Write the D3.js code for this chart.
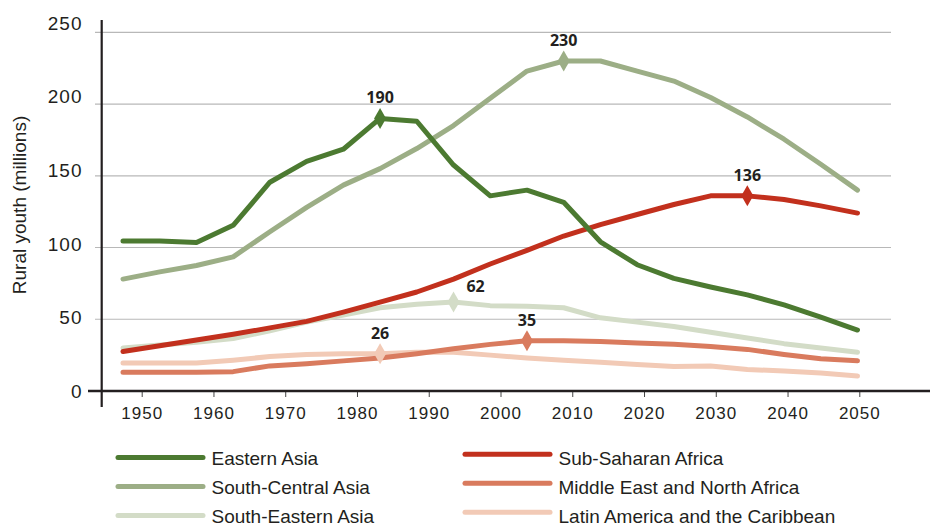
<!DOCTYPE html>
<html>
<head>
<meta charset="utf-8">
<script src="https://cdn.jsdelivr.net/npm/d3@7"></script>
<style>
  html, body { margin: 0; padding: 0; background: #fff; }
  svg { display: block; }
  .tick-label { font-family: "Liberation Sans", Arial, sans-serif; fill: #231f20; }
  .peak-label { font-family: "Open Sans", sans-serif; font-weight: 700; font-size: 16px; fill: #231f20; }
  .legend-text { font-family: "Liberation Sans", Arial, sans-serif; font-size: 19px; fill: #231f20; }
</style>
</head>
<body>
<svg id="chart" width="930" height="525"></svg>
<script>
// Rural youth (millions) by region, 1950-2050

const years = [1950, 1955, 1960, 1965, 1970, 1975, 1980, 1985, 1990, 1995, 2000,
               2005, 2010, 2015, 2020, 2025, 2030, 2035, 2040, 2045, 2050];

const easternAsia      = [104.5, 104.5, 103.5, 115.5, 145.5, 160, 168.5, 190, 188, 157.5, 136,
                          140, 131.5, 104, 88, 78.5, 72.5, 67, 60, 51.5, 42.5];
const southCentralAsia = [78, 83, 87.5, 93.5, 111, 128, 143.5, 155, 169, 185, 204,
                          223, 230, 230, 223, 216, 204.5, 191, 175.5, 158, 140];
const southEasternAsia = [30, 32, 34, 36.5, 42, 48, 53, 58, 60.5, 62, 59.5,
                          59, 58, 51, 48, 45, 41, 37, 33, 30, 27];
const subSaharanAfrica = [27.5, 31.5, 35.5, 39.5, 44, 48.5, 55, 62, 69, 78, 88.5,
                          98, 108, 116, 123, 130, 136, 136, 133.5, 129, 124];
const middleEastNA     = [13, 13, 13, 13.5, 17.5, 19, 21, 23, 26, 29.5, 32.5,
                          35, 35, 34.5, 33.5, 32.5, 31, 29, 25.5, 22.5, 21];
const latinAmerica     = [19.5, 19.5, 19.5, 21.5, 24, 25.5, 26, 26, 27, 27, 25,
                          23, 21.5, 20, 18.5, 17, 17.5, 15, 14, 12.5, 10.5];

const seriesNames = ['Eastern Asia', 'South-Central Asia', 'South-Eastern Asia',
                     'Sub-Saharan Africa', 'Middle East and North Africa', 'Latin America and the Caribbean'];
const seriesValues = [easternAsia, southCentralAsia, southEasternAsia, subSaharanAfrica, middleEastNA, latinAmerica];
// year of the marked peak for each series
const peakYears = [1985, 2010, 1995, 2035, 2005, 1985];

const xTickYears = [1950, 1960, 1970, 1980, 1990, 2000, 2010, 2020, 2030, 2040, 2050];
const yTickValues = [0, 50, 100, 150, 200, 250];

const colors = ['#4c7a31', '#9cae86', '#d3dcc7', '#c2301d', '#d97b5e', '#f2cab6'];

const svg = d3.select('#chart');

// the source chart plots its points a bit offset from the year ticks
const xTick = d3.scaleLinear().domain([1950, 2050]).range([141.7, 859.3]);
const xPlot = d3.scaleLinear().domain([1950, 2050]).range([123, 857.5]);
const y = d3.scaleLinear().domain([0, 250]).range([391, 32.3]);
const yLab = d3.scaleLinear().domain([0, 250]).range([391, 22.8]);

// gridlines
svg.append('g').attr('class', 'grid')
  .selectAll('line').data(yTickValues.filter(v => v > 0)).join('line')
  .attr('x1', 95).attr('x2', 891)
  .attr('y1', d => y(d)).attr('y2', d => y(d))
  .attr('stroke', '#b8b8b8').attr('stroke-width', 1.2);

// y tick labels
svg.append('g')
  .selectAll('text').data(yTickValues).join('text')
  .attr('class', 'tick-label')
  .attr('x', 82.5).attr('y', d => yLab(d))
  .attr('dy', '0.36em')
  .attr('text-anchor', 'end')
  .style('font-size', '19px').style('letter-spacing', '1px')
  .text(d => d);

// x axis ticks + labels
const xAxis = d3.axisBottom(xTick).tickValues(xTickYears).tickSize(6).tickPadding(6).tickFormat(d3.format('d'));
const gx = svg.append('g').attr('transform', 'translate(0,391)').call(xAxis);
gx.select('.domain').remove();
gx.selectAll('.tick line').attr('stroke', '#444').attr('stroke-width', 1);
gx.selectAll('.tick text')
  .attr('class', 'tick-label')
  .attr('y', 28).attr('dy', 0)
  .style('font-size', '17px').style('letter-spacing', '1px')
  .attr('fill', '#231f20');

// axis lines
svg.append('line').attr('x1', 88).attr('x2', 930).attr('y1', 391).attr('y2', 391)
  .attr('stroke', '#231f20').attr('stroke-width', 2.5);
svg.append('line').attr('x1', 101.7).attr('x2', 101.7).attr('y1', 20).attr('y2', 407)
  .attr('stroke', '#231f20').attr('stroke-width', 2.2);

// y title
svg.append('text')
  .attr('class', 'tick-label')
  .attr('transform', 'translate(26,205) rotate(-90)')
  .attr('text-anchor', 'middle')
  .style('font-size', '19px')
  .text('Rural youth (millions)');

// lines (draw order so the darker lines sit on top)
const line = d3.line().x((d, i) => xPlot(years[i])).y(d => y(d));
const drawOrder = [5, 4, 2, 1, 3, 0];
svg.append('g').attr('class', 'lines')
  .selectAll('path').data(drawOrder).join('path')
  .attr('d', i => line(seriesValues[i]))
  .attr('fill', 'none')
  .attr('stroke', i => colors[i])
  .attr('stroke-width', 5)
  .attr('stroke-linecap', 'round')
  .attr('stroke-linejoin', 'round');

// peak markers
const peaks = seriesValues.map((vals, i) => {
  const k = years.indexOf(peakYears[i]);
  return { i, year: peakYears[i], value: vals[k] };
});
const diamond = 'M0,-10.5L6,0L0,10.5L-6,0Z';
const gm = svg.append('g').attr('class', 'markers');
gm.selectAll('path').data(peaks).join('path')
  .attr('d', diamond)
  .attr('transform', d => `translate(${xPlot(d.year)},${y(d.value)})`)
  .attr('fill', d => colors[d.i]);
gm.selectAll('text').data(peaks).join('text')
  .attr('class', 'peak-label')
  .attr('x', d => xPlot(d.year) + (d.i === 2 ? 22 : 0))
  .attr('y', d => y(d.value) - (d.i === 2 ? 10 : 15))
  .attr('text-anchor', 'middle')
  .text(d => d3.format('d')(d.value));

// legend
const legend = svg.append('g').attr('class', 'legend');
seriesNames.forEach((name, i) => {
  const col = i < 3 ? 0 : 1;
  const row = i % 3;
  const lx = col === 0 ? 118 : 465;
  const base = 464.5 + row * 29;
  const ly = base - (col === 0 ? 7 : 10.3);
  legend.append('line')
    .attr('x1', lx).attr('x2', lx + 85).attr('y1', ly).attr('y2', ly)
    .attr('stroke', colors[i]).attr('stroke-width', 5).attr('stroke-linecap', 'round');
  legend.append('text').attr('class', 'legend-text')
    .attr('x', lx + 93.5).attr('y', base)
    .text(name);
});
</script>
</body>
</html>
